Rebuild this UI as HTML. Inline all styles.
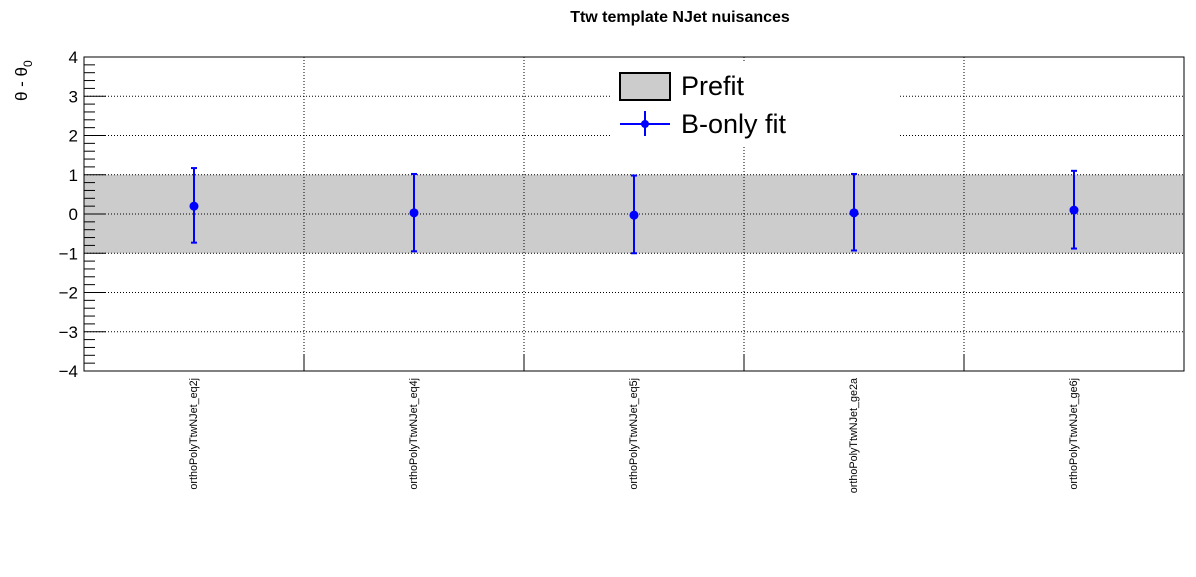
<!DOCTYPE html>
<html><head><meta charset="utf-8"><style>
body{margin:0;background:#fff;}
svg text{font-family:"Liberation Sans",sans-serif;}
</style></head><body>
<svg id="c" width="1196" height="572" xmlns="http://www.w3.org/2000/svg">
<rect width="1196" height="572" fill="#fff"/>
<text x="680" y="22" text-anchor="middle" font-size="16" font-weight="bold">Ttw template NJet nuisances</text>
<g id="plot"></g>
</svg>
<script>
const categories=["orthoPolyTtwNJet_eq2j","orthoPolyTtwNJet_eq4j","orthoPolyTtwNJet_eq5j","orthoPolyTtwNJet_ge2a","orthoPolyTtwNJet_ge6j"];
const values=[0.2,0.03,-0.03,0.03,0.1];
const errUp=[1.17,1.02,0.98,1.02,1.1];
const errDown=[-0.73,-0.95,-1.0,-0.93,-0.88];
const yTicks=[-4,-3,-2,-1,0,1,2,3,4];
const prefitBand=[-1,1];

const NS="http://www.w3.org/2000/svg";
const g=document.getElementById('plot');
const L=84,R=1184,T=57,B=371;
const ymin=-4,ymax=4;
const yS=v=>B-(v-ymin)/(ymax-ymin)*(B-T);
const bw=(R-L)/categories.length;
const xS=i=>L+bw*(i+0.5);
function el(t,a,p){const e=document.createElementNS(NS,t);for(const k in a)e.setAttribute(k,a[k]);(p||g).appendChild(e);return e;}

let band=el('rect',{x:L,y:yS(prefitBand[1]),width:R-L,height:yS(prefitBand[0])-yS(prefitBand[1]),fill:'#cccccc'});



yTicks.forEach(v=>{
  if(v===ymin||v===ymax)return;
  let l=el('line',{x1:L,x2:R,y1:yS(v),y2:yS(v),stroke:'#000','stroke-width':1,'stroke-dasharray':'1,2'});
  
  
});
for(let i=1;i<categories.length;i++){
  const x=L+bw*i;
  let l=el('line',{x1:x,x2:x,y1:T,y2:B,stroke:'#000','stroke-width':1,'stroke-dasharray':'1,2'});
  
  
  let t=el('line',{x1:x,x2:x,y1:B-16,y2:B,stroke:'#000','stroke-width':1});
  
  
}
let fr=el('rect',{x:L,y:T,width:R-L,height:B-T,fill:'none',stroke:'#000','stroke-width':1});


yTicks.forEach((v,k)=>{
  let t=el('line',{x1:L,x2:L+22,y1:yS(v),y2:yS(v),stroke:'#000'});
  
  
  let tx=el('text',{x:L-6,y:yS(v)+6,'text-anchor':'end','font-size':17});
  tx.textContent=v<0?'\u2212'+Math.abs(v):String(v);
  
  
  if(k<yTicks.length-1){for(let m=1;m<5;m++){
    const y=yS(v+m*(yTicks[k+1]-v)/5);
    let mt=el('line',{x1:L,x2:L+11,y1:y,y2:y,stroke:'#000'});
    
    
  }}
});
let yt=el('text',{transform:'translate(27,101) rotate(-90)','font-size':17});
yt.innerHTML='θ - θ<tspan font-size="12" dy="5">0</tspan>';


categories.forEach((c,i)=>{
  let t=el('text',{transform:`translate(${xS(i)+3},378) rotate(-90)`,'text-anchor':'end','font-size':10.8});
  t.textContent=c;
  
  
});
values.forEach((v,i)=>{
  const x=xS(i);
  const pg=el('g',{});
  
  
  el('line',{x1:x,x2:x,y1:yS(errUp[i]),y2:yS(errDown[i]),stroke:'#0000ff','stroke-width':2},pg);
  el('line',{x1:x-3,x2:x+3,y1:yS(errUp[i]),y2:yS(errUp[i]),stroke:'#0000ff','stroke-width':2},pg);
  el('line',{x1:x-3,x2:x+3,y1:yS(errDown[i]),y2:yS(errDown[i]),stroke:'#0000ff','stroke-width':2},pg);
  el('circle',{cx:x,cy:yS(v),r:4.5,fill:'#0000ff'},pg);
});
const lg=el('g',{});


el('rect',{x:610,y:62,width:288,height:84,fill:'#fff'},lg);
const e1=el('g',{},lg);


el('rect',{x:620,y:73,width:50,height:27,fill:'#cccccc',stroke:'#000','stroke-width':2},e1);
let t1=el('text',{x:681,y:95,'font-size':27},e1);t1.textContent='Prefit';
const e2=el('g',{},lg);


el('line',{x1:620,x2:670,y1:124,y2:124,stroke:'#0000ff','stroke-width':2},e2);
el('line',{x1:645,x2:645,y1:111,y2:136,stroke:'#0000ff','stroke-width':2},e2);
el('circle',{cx:645,cy:124,r:4,fill:'#0000ff'},e2);
let t2=el('text',{x:681,y:133,'font-size':27},e2);t2.textContent='B-only fit';
</script>
</body></html>
